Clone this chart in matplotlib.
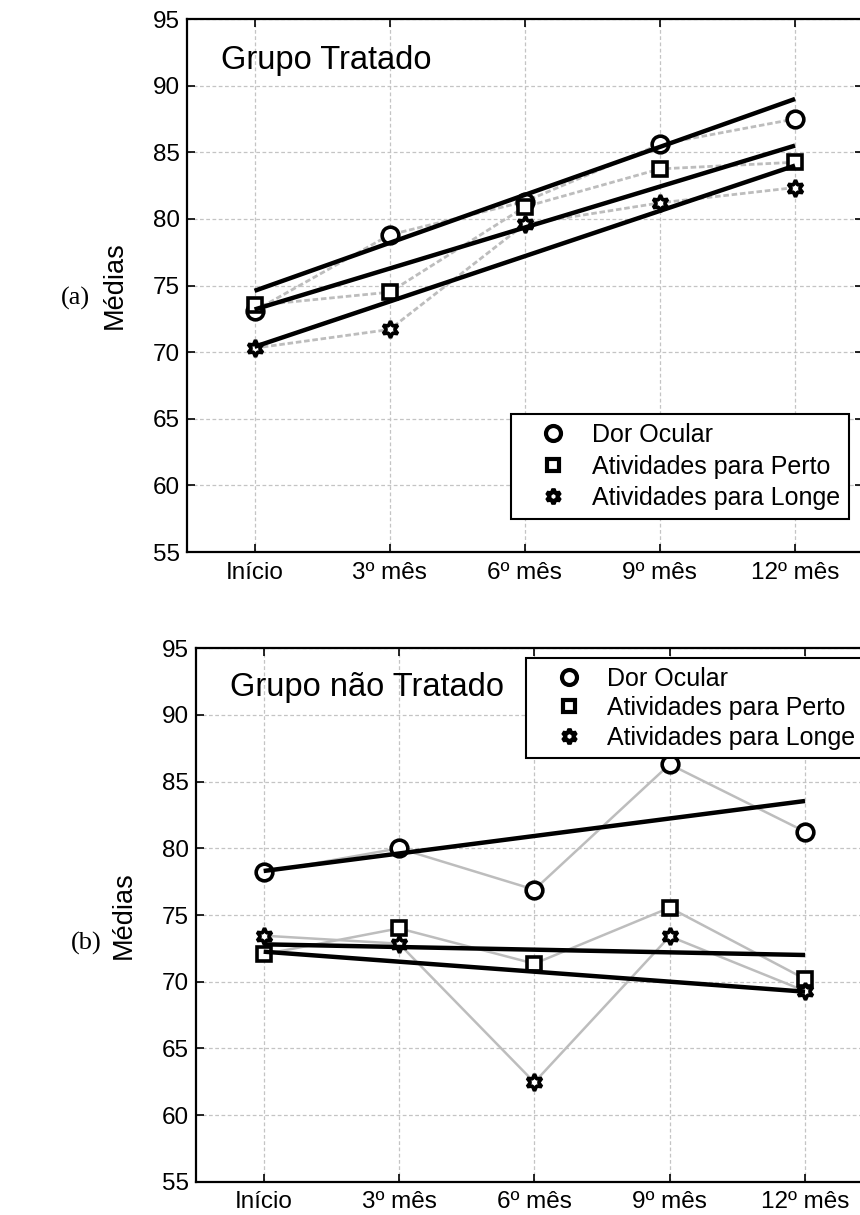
import matplotlib
matplotlib.use("Agg")
import matplotlib.pyplot as plt
from matplotlib.lines import Line2D

# ---------------- data ----------------
periods = ["Início", "3º mês", "6º mês", "9º mês", "12º mês"]
series_names = ["Dor Ocular", "Atividades para Perto", "Atividades para Longe"]

# Grupo Tratado (a)
tr_dor = [73.1, 78.8, 81.3, 85.6, 87.5]
tr_perto = [73.5, 74.5, 80.9, 83.75, 84.25]
tr_longe = [70.3, 71.7, 79.6, 81.2, 82.35]
# trend line values (start at Início, end at 12º mês)
tr_trend_dor = [74.6, 89.0]
tr_trend_perto = [73.2, 85.5]
tr_trend_longe = [70.4, 84.0]

# Grupo não Tratado (b)
nt_dor = [78.2, 80.0, 76.9, 86.3, 81.25]
nt_perto = [72.05, 74.0, 71.35, 75.55, 70.2]
nt_longe = [73.45, 72.85, 62.45, 73.4, 69.3]
nt_trend_dor = [78.3, 83.55]
nt_trend_perto = [72.8, 72.0]
nt_trend_longe = [72.25, 69.25]

panel_titles = ["Grupo Tratado", "Grupo não Tratado"]
panel_tags = ["(a)", "(b)"]
yticks = [55, 60, 65, 70, 75, 80, 85, 90, 95]

# ---------------- style ----------------
plt.rcParams['font.family'] = ['Liberation Sans', 'DejaVu Sans']

W, H = 860, 1215
fig = plt.figure(figsize=(W / 100, H / 100), dpi=100)

markers = ['o', 's', (6, 1, 0)]
msizes = [12, 9.5, 12]

def px_axes(left, top, right, bottom):
    return [left / W, 1 - bottom / H, (right - left) / W, (bottom - top) / H]

panels = [
    dict(rect=px_axes(187, 19, 862.6, 552),
         series=[tr_dor, tr_perto, tr_longe],
         trends=[tr_trend_dor, tr_trend_perto, tr_trend_longe],
         gray_ls=(0, (2, 1)), gray_lw=2.0, gray_c='#bdbdbd',
         leg=dict(loc='lower right', bbox_to_anchor=(0.980, 0.062), labelspacing=0.30),
         tag_xy=(75 / W, 1 - 298 / H), title_xy=(0.0503, 0.923)),
    dict(rect=px_axes(196, 648.3, 872.7, 1181.7),
         series=[nt_dor, nt_perto, nt_longe],
         trends=[nt_trend_dor, nt_trend_perto, nt_trend_longe],
         gray_ls='-', gray_lw=1.8, gray_c='#bdbdbd',
         leg=dict(loc='upper left', bbox_to_anchor=(0.4877, 0.982), labelspacing=0.22),
         tag_xy=(86 / W, 1 - 943 / H), title_xy=(0.0502, 0.9256)),
]

x = list(range(len(periods)))

for i, p in enumerate(panels):
    ax = fig.add_axes(p['rect'])
    for s, (vals, trend) in enumerate(zip(p['series'], p['trends'])):
        ax.plot(x, vals, color=p['gray_c'], lw=p['gray_lw'], ls=p['gray_ls'], zorder=2)
        ax.plot(x, vals, ls='none', marker=markers[s], ms=msizes[s],
                mfc='white', mec='black', mew=2.6, zorder=3)
        ax.plot([x[0], x[-1]], trend, color='black', lw=3.2, zorder=4,
                solid_capstyle='butt')
    ax.set_xlim(-0.5, 4.5)
    ax.set_ylim(55, 95)
    ax.set_yticks(yticks)
    ax.set_xticks(x)
    ax.set_xticklabels(periods)
    ax.grid(True, color='#c4c4c4', ls=(0, (3, 2)), lw=0.9)
    ax.set_axisbelow(True)
    ax.tick_params(direction='in', top=True, right=True, length=6, width=1.2,
                   labelsize=17.5, colors='black')
    ax.tick_params(axis='y', pad=5)
    ax.tick_params(axis='x', pad=7)
    for sp in ax.spines.values():
        sp.set_linewidth(1.6)
    ax.set_ylabel("Médias", fontsize=19.5)
    ax.yaxis.set_label_coords(-0.087, 0.5)
    ax.text(p['title_xy'][0], p['title_xy'][1], panel_titles[i], transform=ax.transAxes,
            fontsize=23.5, ha='left', va='center')
    handles = [Line2D([], [], ls='none', marker=markers[s], ms=msizes[s] * 0.9,
                      mfc='white', mec='black', mew=3.0) for s in range(3)]
    leg = ax.legend(handles, series_names, fontsize=18, frameon=True, fancybox=False,
                    edgecolor='black', framealpha=1, borderaxespad=0,
                    handlelength=2.7, handletextpad=0.2, borderpad=0.35, **p['leg'])
    leg.get_frame().set_linewidth(1.5)
    leg.set_zorder(10)
    fig.text(p['tag_xy'][0], p['tag_xy'][1], panel_tags[i], fontsize=19,
             family='Liberation Serif', ha='center', va='center')

fig.savefig("out.png", dpi=100)
